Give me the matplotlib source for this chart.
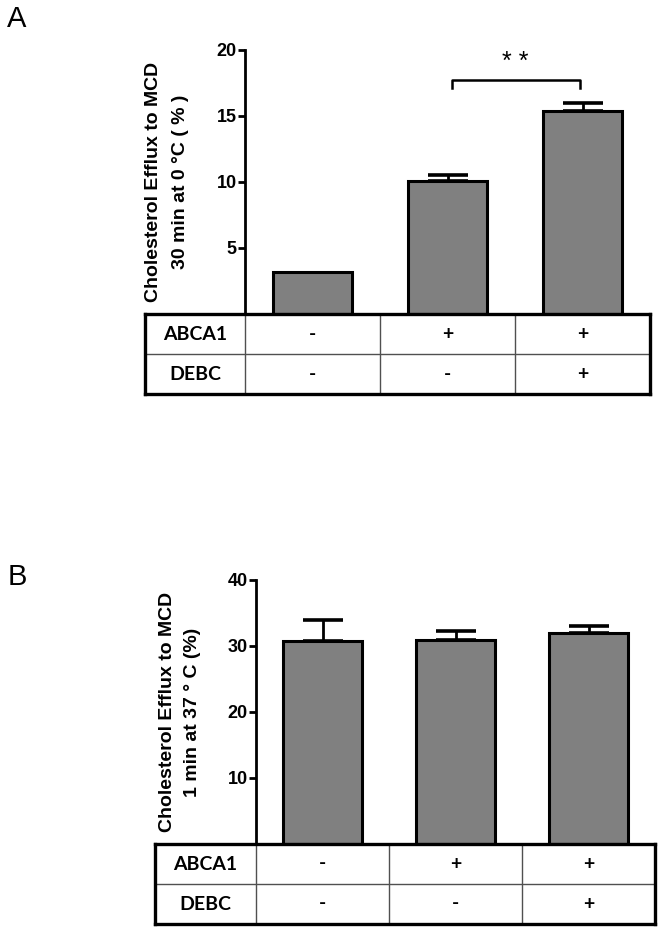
import matplotlib
matplotlib.use("Agg")
import matplotlib.pyplot as plt

# cholesterol efflux to MCD, 30 min at 0 C
a_values = [3.2, 10.1, 15.4]
a_errors = [0.0, 0.4, 0.6]
a_ticks = [5, 10, 15, 20]

# cholesterol efflux to MCD, 1 min at 37 C
b_values = [30.8, 30.9, 32.0]
b_errors = [3.1, 1.4, 1.0]
b_ticks = [10, 20, 30, 40]

row_names = ["ABCA1", "DEBC"]
abca1 = ["-", "+", "+"]
debc = ["-", "-", "+"]

W, H = 664, 934
plt.rcParams['font.family'] = ['Liberation Sans', 'DejaVu Sans']


def box(x0, y0, x1, y1):
    # pixel box (from top left) -> figure fraction
    return [x0 / W, 1 - y1 / H, (x1 - x0) / W, (y1 - y0) / H]


def draw_panel(fig, values, errors, ticks, ymax, bar_box, table_box, lab_w):
    ax = fig.add_axes(bar_box)
    x = list(range(len(values)))
    ax.bar(x, values, width=0.59, color='#808080', edgecolor='black',
           linewidth=2.2, zorder=2)
    # only bars that have a visible error get a cap
    ex = [i for i in x if errors[i] > 0]
    ax.errorbar(ex, [values[i] for i in ex],
                yerr=[[0] * len(ex), [errors[i] for i in ex]], fmt='none',
                ecolor='black', elinewidth=2.0, capsize=14.5, capthick=2.6,
                zorder=3)
    ax.set_xlim(-0.5, 2.5)
    ax.set_ylim(0, ymax)
    ax.set_yticks(ticks)
    ax.set_xticks([])
    for s in ['top', 'right', 'bottom']:
        ax.spines[s].set_visible(False)
    ax.spines['left'].set_linewidth(2.0)
    ax.tick_params(axis='y', length=5, width=2.0, labelsize=13, pad=1)
    for lab in ax.get_yticklabels():
        lab.set_fontweight('bold')

    # table under the bars, same column units
    tax = fig.add_axes(table_box)
    tax.set_xlim(-0.5 - lab_w, 2.5)
    tax.set_ylim(0, 2)
    tax.set_xticks([])
    tax.set_yticks([])
    for s in tax.spines.values():
        s.set_linewidth(2.4)
    tax.axhline(1, color='#505050', lw=1.0)
    for xv in [-0.5, 0.5, 1.5]:
        tax.axvline(xv, color='#505050', lw=1.0)
    for row, (name, signs) in enumerate(zip(row_names, [abca1, debc])):
        yc = 1.5 - row
        tax.text(-0.5 - lab_w / 2, yc, name, ha='center', va='center',
                 fontsize=14, fontweight='bold', family=['Lato', 'DejaVu Sans'])
        for i, s in enumerate(signs):
            tax.text(i, yc, s, ha='center', va='center', fontsize=14,
                     fontweight='bold', family=['Lato', 'DejaVu Sans'])
    return ax


fig = plt.figure(figsize=(W / 100, H / 100), dpi=100)

axA = draw_panel(fig, a_values, a_errors, a_ticks, 20,
                 box(245, 50, 650, 314), box(145, 314, 650, 394), 0.74)
axA.plot([1.03, 1.03, 1.98, 1.98], [17.1, 17.7, 17.7, 17.1], color='black',
         lw=1.8, clip_on=False)
axA.text(1.5, 19.1, "* *", ha='center', va='center', fontsize=18,
         clip_on=False)

axB = draw_panel(fig, b_values, b_errors, b_ticks, 40,
                 box(256, 580, 655, 844), box(155, 844, 655, 924), 0.76)

fig.text(167 / W, 1 - 182 / H,
         "Cholesterol Efflux to MCD\n30 min at 0 \u00b0C ( % )",
         rotation=90, ha='center', va='center', fontsize=14,
         fontweight='bold', linespacing=1.75, multialignment='center')
fig.text(180 / W, 1 - 712 / H,
         "Cholesterol Efflux to MCD\n1 min at 37 \u00b0 C (%)",
         rotation=90, ha='center', va='center', fontsize=14,
         fontweight='bold', linespacing=1.65, multialignment='center')

fig.text(17 / W, 1 - 19 / H, "A", ha='center', va='center', fontsize=21)
fig.text(17 / W, 1 - 577 / H, "B", ha='center', va='center', fontsize=21)

fig.savefig("out.png", dpi=100)
